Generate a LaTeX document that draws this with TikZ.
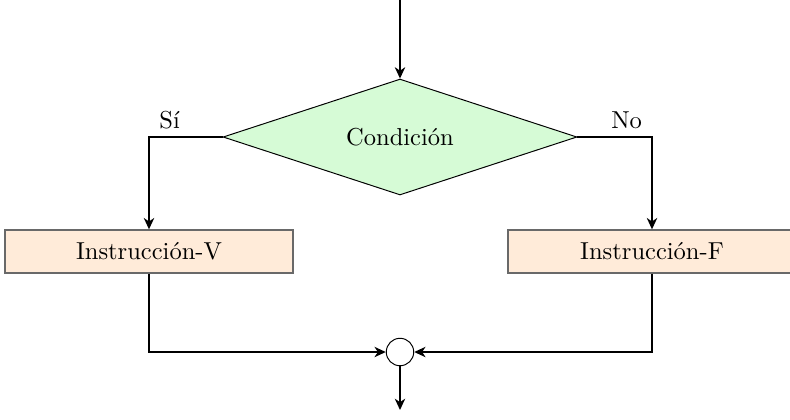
\documentclass[tikz,border=0pt]{standalone}
\usetikzlibrary{shapes.geometric,arrows.meta}
\definecolor{condfill}{RGB}{214,251,214}
\definecolor{procfill}{RGB}{255,235,217}
\definecolor{procdraw}{RGB}{105,105,105}
\begin{document}
\begin{tikzpicture}[x=0.408pt,y=-0.408pt,
  cond/.style={diamond,draw=black,thin,fill=condfill,aspect=3.05,
    minimum width=144.4pt,minimum height=47.3pt,inner sep=0pt},
  proc/.style={rectangle,draw=procdraw,line width=0.6pt,fill=procfill,
    minimum width=117.5pt,minimum height=17.5pt,inner sep=0pt},
  junc/.style={circle,draw=black,thin,fill=white,minimum size=11.2pt,inner sep=0pt},
  flow/.style={-{Stealth[length=4.6pt,width=4.2pt,inset=1.4pt]},thick},
  lbl/.style={above,inner sep=3pt}]
\clip (0,0) rectangle (790,419);
\node[cond] (c) at (400,137) {Condición};
\node[proc] (v) at (149,251.5) {Instrucción-V};
\node[proc] (f) at (652,251.5) {Instrucción-F};
\node[junc] (j) at (400,352) {};
\coordinate (top) at (400,0);
\coordinate (bot) at (400,410);
\draw[flow] (top) -- (c.north);
\draw[flow] (c.west) -| node[lbl,pos=0.36] {Sí} (v.north);
\draw[flow] (c.east) -| node[lbl,pos=0.33] {No} (f.north);
\draw[flow] (v.south) |- (j.west);
\draw[flow] (f.south) |- (j.east);
\draw[flow] (j.south) -- (bot);
\end{tikzpicture}
\end{document}
